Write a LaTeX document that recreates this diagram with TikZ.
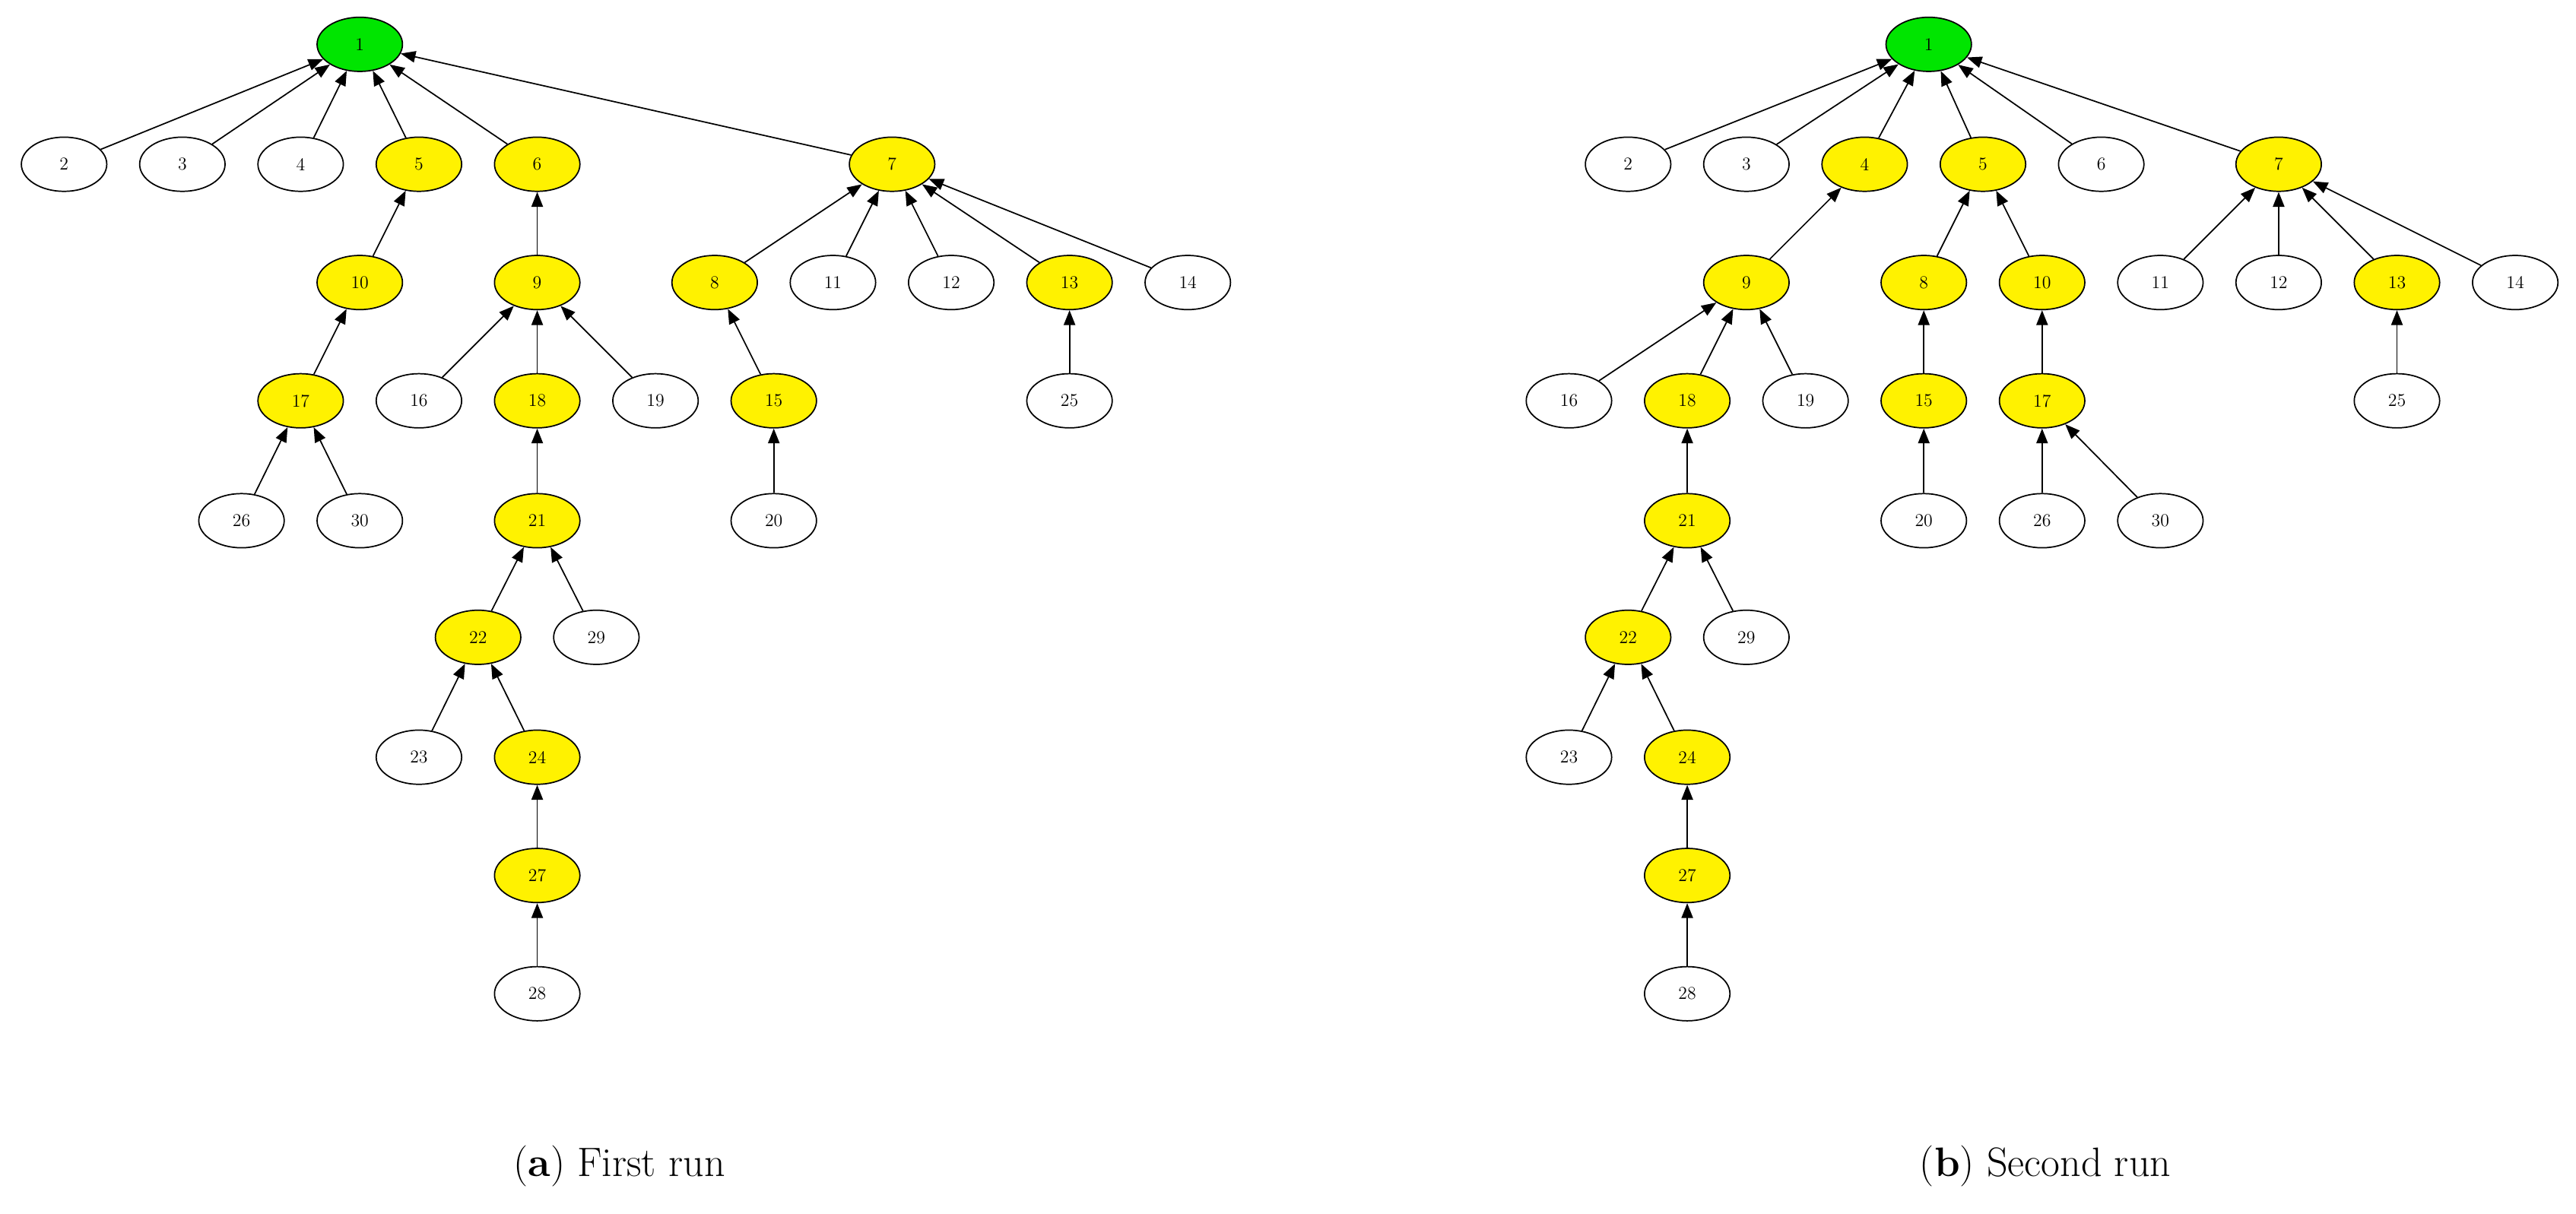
\documentclass[tikz,border=0pt]{standalone}
\usetikzlibrary{arrows.meta,shapes.geometric}
\begin{document}
\begin{tikzpicture}[x=1pt,y=-1pt,
 n/.style={ellipse,draw,line width=0.8pt,minimum width=52pt,minimum height=33pt,inner sep=0pt,font=\fontsize{11}{12}\selectfont,fill=white},
 yl/.style={n,fill=yellow},
 gr/.style={n,fill=green!90!black},
 e/.style={-{Triangle[length=9pt,width=7pt]},line width=0.8pt},
 captxt/.style={font=\fontsize{25}{30}\selectfont}]
\useasboundingbox (0,0) rectangle (1568,739);
% left tree
\node[gr] (a1) at (219,27) {1};
\node[n] (a2) at (39,100) {2};
\node[n] (a3) at (111,100) {3};
\node[n] (a4) at (183,100) {4};
\node[yl] (a5) at (255,100) {5};
\node[yl] (a6) at (327,100) {6};
\node[yl] (a7) at (543,100) {7};
\node[yl] (a10) at (219,172) {10};
\node[yl] (a9) at (327,172) {9};
\node[yl] (a8) at (435,172) {8};
\node[n] (a11) at (507,172) {11};
\node[n] (a12) at (579,172) {12};
\node[yl] (a13) at (651,172) {13};
\node[n] (a14) at (723,172) {14};
\node[yl] (a17) at (183,244) {17};
\node[n] (a16) at (255,244) {16};
\node[yl] (a18) at (327,244) {18};
\node[n] (a19) at (399,244) {19};
\node[yl] (a15) at (471,244) {15};
\node[n] (a25) at (651,244) {25};
\node[n] (a26) at (147,317) {26};
\node[n] (a30) at (219,317) {30};
\node[yl] (a21) at (327,317) {21};
\node[n] (a20) at (471,317) {20};
\node[yl] (a22) at (291,388) {22};
\node[n] (a29) at (363,388) {29};
\node[n] (a23) at (255,461) {23};
\node[yl] (a24) at (327,461) {24};
\node[yl] (a27) at (327,533) {27};
\node[n] (a28) at (327,605) {28};
\foreach \c/\p in {2/1,3/1,4/1,5/1,6/1,7/1,10/5,9/6,8/7,11/7,12/7,13/7,14/7,17/10,16/9,18/9,19/9,15/8,25/13,26/17,30/17,21/18,20/15,22/21,29/21,23/22,24/22,27/24,28/27}
  \draw[e] (a\c) -- (a\p);
% right tree
\node[gr] (b1) at (1174,27) {1};
\node[n] (b2) at (991,100) {2};
\node[n] (b3) at (1063,100) {3};
\node[yl] (b4) at (1135,100) {4};
\node[yl] (b5) at (1207,100) {5};
\node[n] (b6) at (1279,100) {6};
\node[yl] (b7) at (1387,100) {7};
\node[yl] (b9) at (1063,172) {9};
\node[yl] (b8) at (1171,172) {8};
\node[yl] (b10) at (1243,172) {10};
\node[n] (b11) at (1315,172) {11};
\node[n] (b12) at (1387,172) {12};
\node[yl] (b13) at (1459,172) {13};
\node[n] (b14) at (1531,172) {14};
\node[n] (b16) at (955,244) {16};
\node[yl] (b18) at (1027,244) {18};
\node[n] (b19) at (1099,244) {19};
\node[yl] (b15) at (1171,244) {15};
\node[yl] (b17) at (1243,244) {17};
\node[n] (b25) at (1459,244) {25};
\node[yl] (b21) at (1027,317) {21};
\node[n] (b20) at (1171,317) {20};
\node[n] (b26) at (1243,317) {26};
\node[n] (b30) at (1315,317) {30};
\node[yl] (b22) at (991,388) {22};
\node[n] (b29) at (1063,388) {29};
\node[n] (b23) at (955,461) {23};
\node[yl] (b24) at (1027,461) {24};
\node[yl] (b27) at (1027,533) {27};
\node[n] (b28) at (1027,605) {28};
\foreach \c/\p in {2/1,3/1,4/1,5/1,6/1,7/1,9/4,8/5,10/5,11/7,12/7,13/7,14/7,16/9,18/9,19/9,15/8,17/10,25/13,21/18,20/15,26/17,30/17,22/21,29/21,23/22,24/22,27/24,28/27}
  \draw[e] (b\c) -- (b\p);
\node[captxt] (ca) at (377,710) {(\textbf{a}) First run};
\node[captxt] (cb) at (1245,710) {(\textbf{b}) Second run};
\end{tikzpicture}
\end{document}
